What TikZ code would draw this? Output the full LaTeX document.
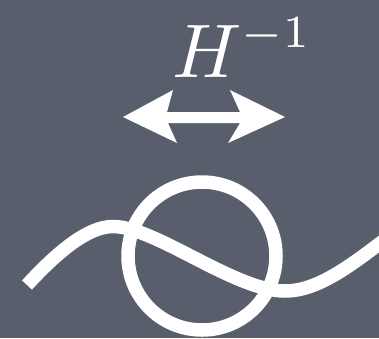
\documentclass[tikz,border=0pt]{standalone}
\definecolor{slate}{RGB}{88,94,108}
\tikzset{
  strand/.style={draw=white, line width=13.5pt},
  arrowshape/.style={fill=white, draw=none},
  label/.style={text=white, inner sep=0pt, anchor=base west}
}
\begin{document}
\begin{tikzpicture}[x=1pt,y=-1pt]
\useasboundingbox (0,0) rectangle (379,338);
\clip (0,0) rectangle (379,338);
\fill[slate] (0,0) rectangle (379,338);
% label
\node[label] (hinv) at (172,77.5) {\scalebox{7.6}{$H^{\raisebox{0.33pt}{\scalebox{0.864}{$\scriptstyle -1$}}}$}};
% double arrow
\path[arrowshape] (123,117) -- (173,90) -- (167,112) -- (240,112) -- (230,90) -- (285,117)
  -- (228,143) -- (240,123) -- (168,123) -- (177,143) -- cycle;
% loop
\coordinate (c) at (202,256);
\draw[strand] (c) circle[radius=74pt];
% wave
\coordinate (w0) at (27,285);
\coordinate (w1) at (113,226.5);
\coordinate (w2) at (285,291);
\coordinate (w3) at (395,232);
\draw[strand] (w0) .. controls (52,258) and (85,226.5) .. (w1)
  .. controls (155,226.5) and (235,291) .. (w2)
  .. controls (320,291) and (355,262) .. (w3);
\end{tikzpicture}
\end{document}
